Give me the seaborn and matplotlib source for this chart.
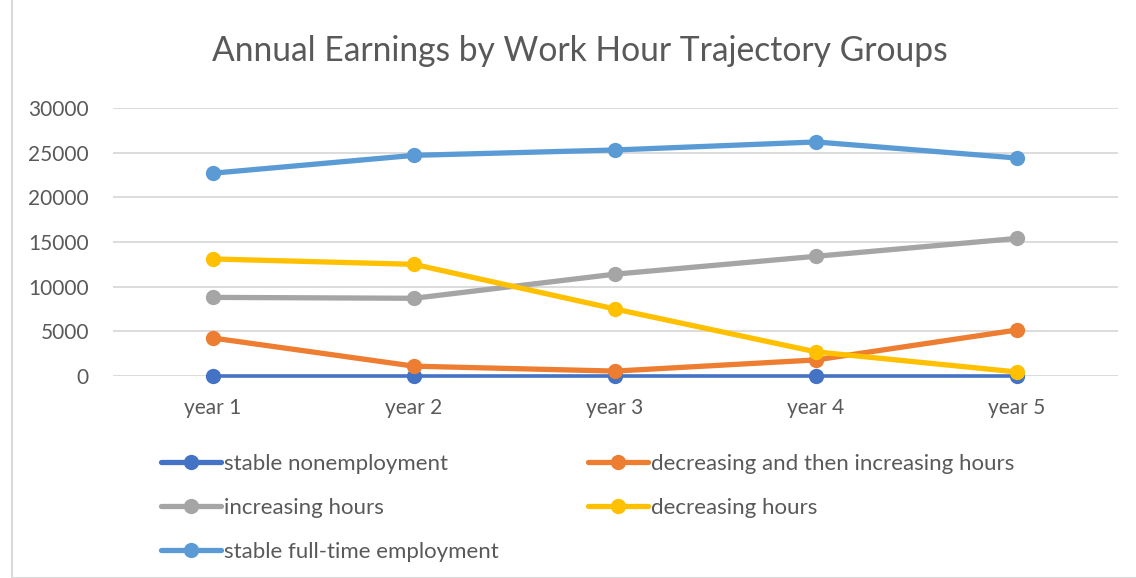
import pandas as pd
import seaborn as sns
import matplotlib.pyplot as plt

# значения
years = ["year 1", "year 2", "year 3", "year 4", "year 5"]
groups = ["stable nonemployment", "decreasing and then increasing hours",
          "increasing hours", "decreasing hours", "stable full-time employment"]
stable_non = [0, 0, 0, 0, 0]
dec_inc = [4250, 1100, 550, 1800, 5150]
increasing = [8800, 8700, 11400, 13400, 15400]
decreasing = [13100, 12500, 7500, 2700, 450]
stable_full = [22700, 24700, 25300, 26200, 24400]
colors = ["#4472C4", "#ED7D31", "#A5A5A5", "#FFC000", "#5B9BD5"]

series = [stable_non, dec_inc, increasing, decreasing, stable_full]
rows = []
for g, vals in zip(groups, series):
    for i, v in enumerate(vals):
        rows.append({"year": i, "group": g, "earnings": v})
df = pd.DataFrame(rows)

sns.set_style("white")
plt.rcParams['font.family'] = ['Lato', 'DejaVu Sans']

fig = plt.figure(figsize=(11.36, 5.78), dpi=100)
ax = fig.add_axes([112.5 / 1136, 1 - 376 / 578, 1005 / 1136, 268 / 578])

sns.lineplot(data=df, x="year", y="earnings", hue="group", hue_order=groups,
             palette=colors, marker="o", markersize=11, markeredgewidth=0,
             linewidth=3.8, ax=ax, legend=True)
ax.lines[0].set_linewidth(2.6)

ax.set_xlim(-0.5, 4.5)
ax.set_ylim(0, 30000)
ax.set_yticks(range(0, 30001, 5000))
ax.set_xticks(range(5))
ax.set_xticklabels(years)
ax.set_xlabel("")
ax.set_ylabel("")
ax.grid(axis="y", color="#D9D9D9", linewidth=1.3)
ax.set_axisbelow(True)
for s in ax.spines.values():
    s.set_visible(False)
ax.tick_params(axis="both", length=0, labelsize=15, colors="#595959")
ax.tick_params(axis="y", pad=17)
ax.tick_params(axis="x", pad=16)
for l in ax.get_lines():
    l.set_clip_on(False)

handles, labels = ax.get_legend_handles_labels()
ax.get_legend().remove()
order = [0, 2, 4, 1, 3]
fig.legend([handles[i] for i in order], [labels[i] for i in order],
           ncol=2, loc="upper left", bbox_to_anchor=(141 / 1136, 1 - 434 / 578),
           frameon=False, fontsize=16, handlelength=2.7, handletextpad=0.15,
           columnspacing=4.0, labelspacing=1.07, labelcolor="#595959")

fig.suptitle("Annual Earnings by Work Hour Trajectory Groups", x=580 / 1136,
             y=1 - 51 / 578, va="center", fontsize=24.2, color="#595959")

fig.patches.append(plt.Rectangle((12 / 1136, 0), 1.2, 1.2, transform=fig.transFigure,
                                 fill=False, edgecolor="#D9D9D9", linewidth=1.5))
fig.savefig("out.png", dpi=100)
